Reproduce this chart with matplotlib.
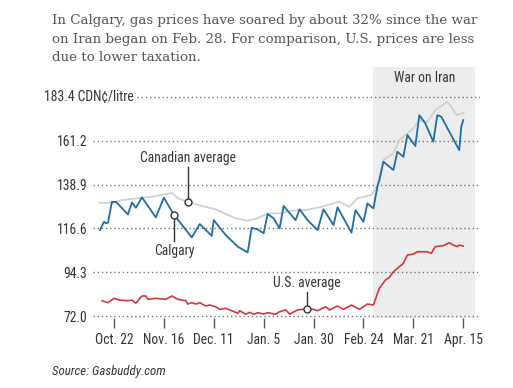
import numpy as np
import pandas as pd
import matplotlib
matplotlib.use("Agg")
import matplotlib.pyplot as plt
import matplotlib.dates as mdates
import matplotlib.transforms as mtransforms
from matplotlib import font_manager as fm

# condensed sans: first installed static regular/italic from this list
PREFS = ['Roboto Condensed', 'Liberation Sans Narrow', 'Fira Sans Condensed',
         'IBM Plex Sans Condensed', 'Barlow Semi Condensed', 'Asap Condensed', 'Archivo Narrow']

def narrow_font(italic=False):
    want = 'italic' if italic else 'normal'
    for p in PREFS:
        for f in fm.fontManager.ttflist:
            if f.name == p and f.style == want and f.weight in (400, 'normal', 'regular') \
                    and '[' not in f.fname:
                return fm.FontProperties(fname=f.fname)
    return fm.FontProperties(family=['Liberation Sans', 'DejaVu Sans'], style=want)

SANS = narrow_font()
SANS_IT = narrow_font(italic=True)
SERIF = ['DejaVu Serif']

# data (CDN cents / litre)
calgary_dates = ['2025-10-15', '2025-10-17', '2025-10-18', '2025-10-19', '2025-10-21', '2025-10-23',
                 '2025-10-29', '2025-10-31', '2025-11-02', '2025-11-05', '2025-11-12', '2025-11-16',
                 '2025-11-21', '2025-11-30', '2025-12-04', '2025-12-10', '2025-12-11', '2025-12-17',
                 '2025-12-23', '2025-12-28', '2025-12-30', '2026-01-02', '2026-01-05', '2026-01-07',
                 '2026-01-10', '2026-01-13', '2026-01-15', '2026-01-21', '2026-01-23', '2026-01-27',
                 '2026-02-01', '2026-02-04', '2026-02-09', '2026-02-11', '2026-02-15', '2026-02-18',
                 '2026-02-20', '2026-02-24', '2026-02-26', '2026-02-28', '2026-03-01', '2026-03-03',
                 '2026-03-04', '2026-03-06', '2026-03-11', '2026-03-13', '2026-03-16', '2026-03-18',
                 '2026-03-22', '2026-03-24', '2026-03-27', '2026-03-31', '2026-04-02', '2026-04-04',
                 '2026-04-13', '2026-04-14', '2026-04-15']
calgary_values = [115.7, 120.0, 119.2, 119.5, 130.1, 130.1,
                  123.7, 129.8, 127.1, 132.4, 122.2, 132.2,
                  123.6, 112.0, 118.8, 112.8, 120.8, 113.2,
                  107.3, 104.4, 116.9, 116.1, 114.1, 123.9,
                  121.7, 116.6, 128.0, 120.8, 126.3, 120.8,
                  115.7, 126.3, 118.3, 127.3, 120.0, 114.4,
                  125.9, 120.0, 129.3, 127.6, 126.8, 137.8,
                  141.2, 150.5, 146.3, 155.6, 153.0, 164.1,
                  158.5, 174.2, 170.0, 160.7, 174.2, 173.4,
                  156.4, 168.3, 171.7]

canada_dates = ['2025-10-15', '2025-10-21', '2025-10-26', '2025-11-03', '2025-11-10', '2025-11-15',
                '2025-11-20', '2025-11-23', '2025-11-28', '2025-12-05', '2025-12-12', '2025-12-17',
                '2025-12-22', '2025-12-28', '2026-01-02', '2026-01-07', '2026-01-13', '2026-01-19',
                '2026-01-26', '2026-02-03', '2026-02-10', '2026-02-12', '2026-02-15', '2026-02-17',
                '2026-02-21', '2026-02-28', '2026-03-03', '2026-03-06', '2026-03-11', '2026-03-14',
                '2026-03-17', '2026-03-21', '2026-03-24', '2026-03-28', '2026-04-01', '2026-04-04',
                '2026-04-07', '2026-04-09', '2026-04-11', '2026-04-12', '2026-04-15']
canada_values = [129.6, 129.6, 131.0, 131.9, 132.7, 133.6,
                 134.7, 131.9, 130.1, 128.0, 126.3, 123.9,
                 121.7, 120.5, 121.7, 124.2, 124.2, 125.6,
                 125.9, 127.6, 129.6, 130.1, 128.5, 127.6,
                 131.9, 133.6, 138.6, 151.4, 154.8, 161.5,
                 164.1, 167.5, 171.7, 170.8, 176.8, 178.8,
                 181.0, 178.8, 175.1, 174.2, 175.4]

us_dates = ['2025-10-16', '2025-10-19', '2025-10-22', '2025-10-25', '2025-10-29', '2025-10-31',
            '2025-11-02', '2025-11-05', '2025-11-07', '2025-11-08', '2025-11-12', '2025-11-17',
            '2025-11-20', '2025-11-23', '2025-11-27', '2025-11-28', '2025-11-30', '2025-12-02',
            '2025-12-04', '2025-12-07', '2025-12-09', '2025-12-12', '2025-12-14', '2025-12-17',
            '2025-12-20', '2025-12-23', '2025-12-24', '2025-12-27', '2025-12-29', '2025-12-31',
            '2026-01-02', '2026-01-05', '2026-01-07', '2026-01-11', '2026-01-13', '2026-01-16',
            '2026-01-18', '2026-01-22', '2026-01-26', '2026-01-30', '2026-02-01', '2026-02-05',
            '2026-02-07', '2026-02-11', '2026-02-14', '2026-02-18', '2026-02-22', '2026-02-26',
            '2026-03-01', '2026-03-03', '2026-03-04', '2026-03-07', '2026-03-09', '2026-03-11',
            '2026-03-13', '2026-03-16', '2026-03-18', '2026-03-21', '2026-03-23', '2026-03-28',
            '2026-03-30', '2026-04-01', '2026-04-05', '2026-04-08', '2026-04-10', '2026-04-12',
            '2026-04-13', '2026-04-15']
us_values = [79.8, 78.8, 81.0, 80.1, 79.8, 80.1,
             78.5, 82.2, 82.2, 80.5, 81.0, 80.5,
             82.2, 80.5, 79.8, 78.1, 78.8, 78.1,
             78.8, 77.1, 77.6, 76.7, 75.4, 75.9,
             74.7, 73.4, 74.7, 72.9, 73.9, 72.9,
             73.7, 73.0, 73.7, 72.9, 74.2, 75.1,
             73.0, 75.1, 75.6, 75.4, 74.7, 76.7,
             75.1, 77.1, 75.4, 77.6, 75.4, 78.1,
             77.6, 83.5, 86.1, 90.3, 91.7, 94.5,
             96.3, 98.8, 103.0, 103.5, 104.7, 104.7,
             103.9, 107.3, 107.8, 109.3, 108.1, 107.3,
             108.1, 107.6]

y_ticks = [72.0, 94.3, 116.6, 138.9, 161.2]
y_top = 183.4
x_ticks = ['2025-10-22', '2025-11-16', '2025-12-11', '2026-01-05',
           '2026-01-30', '2026-02-24', '2026-03-21', '2026-04-15']
x_labels = ['Oct. 22', 'Nov. 16', 'Dec. 11', 'Jan. 5', 'Jan. 30', 'Feb. 24', 'Mar. 21', 'Apr. 15']
war_start, war_end = '2026-03-01', '2026-04-21'

BLUE = '#1f6ea3'
GREY = '#d0d0d0'
RED = '#cc3a3f'
TXT = '#333333'
FS = 9.8

cal_d = pd.to_datetime(calgary_dates)
can_d = pd.to_datetime(canada_dates)
us_d = pd.to_datetime(us_dates)

fig = plt.figure(figsize=(5.13, 3.88), dpi=100)
ax = fig.add_axes([93 / 513, 1 - 318 / 388, 387 / 513, 251 / 388])

x0 = pd.Timestamp('2025-10-22')
ax.set_xlim(x0 - pd.Timedelta(days=10.5), x0 + pd.Timedelta(days=183.4))
ax.set_ylim(71, 198.7)

# war shading
ax.axvspan(pd.Timestamp(war_start), pd.Timestamp(war_end), color='#ededed', lw=0, zorder=0)
mid = pd.Timestamp(war_start) + (pd.Timestamp(war_end) - pd.Timestamp(war_start)) / 2
ax.text(mid, 193.3, 'War on Iran', ha='center', va='center', fontproperties=SANS, fontsize=FS, color=TXT)

# gridlines
for v in y_ticks:
    ax.axhline(v, color='#777777', lw=1, ls=(0, (1, 2)), zorder=1)
ax.axhline(y_top, xmin=0.114, color='#777777', lw=1, ls=(0, (1, 2)), zorder=1)
ax.text(0.106, y_top, '183.4 CDN¢/litre', transform=mtransforms.blended_transform_factory(ax.transAxes, ax.transData),
        ha='right', va='center', fontproperties=SANS, fontsize=FS, color=TXT)

# lines
ax.plot(can_d, canada_values, color=GREY, lw=1.3, zorder=2)
ax.plot(cal_d, calgary_values, color=BLUE, lw=1.3, zorder=3)
ax.plot(us_d, us_values, color=RED, lw=1.2, zorder=3)

# annotations
def callout(date, dates, values, y_end, label, va):
    t = pd.Timestamp(date)
    yv = np.interp(mdates.date2num(t), mdates.date2num(dates), values)
    ax.plot([t, t], [yv, y_end], color=TXT, lw=1, zorder=4)
    ax.plot([t], [yv], 'o', ms=5, mfc='white', mec=TXT, mew=1, zorder=5)
    ty = y_end + 1.2 if va == 'bottom' else y_end - 1.5
    ax.text(t, ty, label, ha='center', va=va, fontproperties=SANS, fontsize=FS, color=TXT)

callout('2025-11-28 05:00', can_d, canada_values, 147.8, 'Canadian average', 'bottom')
callout('2025-11-21 05:00', cal_d, calgary_values, 110.2, 'Calgary', 'top')
callout('2026-01-26 16:00', us_d, us_values, 84.0, 'U.S. average', 'bottom')

# axes styling
for s in ax.spines.values():
    s.set_visible(False)
ax.set_yticks(y_ticks)
ax.set_yticklabels(['%.1f' % v for v in y_ticks])
ax.set_xticks(pd.to_datetime(x_ticks))
ax.set_xticklabels(x_labels)
ax.tick_params(axis='y', length=0, pad=4, labelcolor=TXT)
ax.tick_params(axis='x', length=7, width=1, color='#555555', pad=4, labelcolor=TXT)
for lab in ax.get_xticklabels() + ax.get_yticklabels():
    lab.set_fontproperties(SANS)
    lab.set_fontsize(FS)

# title & source
title = ['In Calgary, gas prices have soared by about 32% since the war',
         'on Iran began on Feb. 28. For comparison, U.S. prices are less',
         'due to lower taxation.']
for i, line in enumerate(title):
    fig.text(52 / 513, 1 - (24 + 18.5 * i) / 388, line, ha='left', va='baseline',
             family=SERIF, fontsize=9.6, color='#555555')
fig.text(52 / 513, 1 - 372 / 388, 'Source: Gasbuddy.com', ha='left', va='center',
         fontproperties=SANS_IT, fontsize=9.3, color=TXT)

fig.savefig('out.png', dpi=100, facecolor='white')
